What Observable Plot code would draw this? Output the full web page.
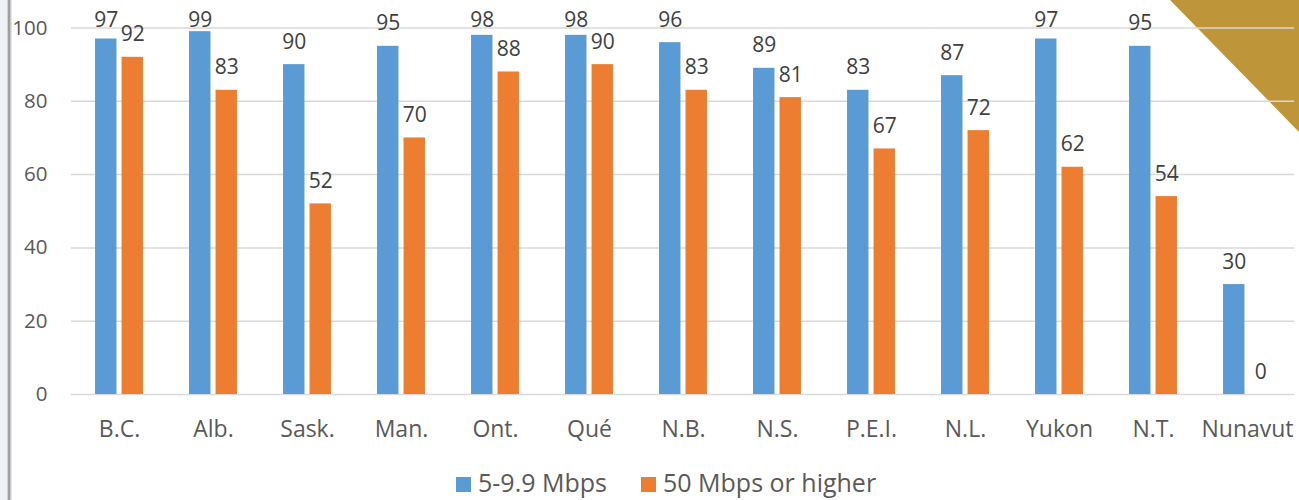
<!DOCTYPE html>
<html>
<head>
<meta charset="utf-8">
<script src="https://cdn.jsdelivr.net/npm/d3@7"></script>
<script src="https://cdn.jsdelivr.net/npm/@observablehq/plot@0.6"></script>
<style>
  html, body { margin: 0; padding: 0; background: #fff; }
  #wrap { position: relative; width: 1299px; height: 500px; overflow: hidden; font-family: "Open Sans", sans-serif; }
  #border { position: absolute; left: 0; top: 0; width: 12px; height: 500px;
    background: linear-gradient(to right, #eef2f7 0px, #eef2f7 7px, #b0b0b0 8px, #8c8c8c 9px, #c8c8c8 10.5px, #f4f4f4 12px); }
  #tri { position: absolute; right: 0; top: 0; width: 129px; height: 132px; background: #BE9539;
    clip-path: polygon(0 0, 100% 0, 100% 100%); }
  #chart { position: absolute; left: 0; top: 0; }
  #legend { position: absolute; left: 456px; top: 470px; display: flex; align-items: center; gap: 34px; color: #595959; font-size: 25px; line-height: 24px; }
  .item { display: flex; align-items: center; }
  .sw { width: 15px; height: 15px; margin-right: 7px; margin-top: 4px; }
</style>
</head>
<body>
<div id="wrap">
  <div id="tri"></div>
  <div id="border"></div>
  <div id="chart"></div>
  <div id="legend"></div>
</div>
<script>
const provinces = ["B.C.", "Alb.", "Sask.", "Man.", "Ont.", "Qué", "N.B.", "N.S.", "P.E.I.", "N.L.", "Yukon", "N.T.", "Nunavut"];
const speed5to10 = [97, 99, 90, 95, 98, 98, 96, 89, 83, 87, 97, 95, 30];
const speed50plus = [92, 83, 52, 70, 88, 90, 83, 81, 67, 72, 62, 54, 0];
const seriesNames = ["5-9.9 Mbps", "50 Mbps or higher"];
const seriesColors = ["#5B9BD5", "#ED7D31"];
const yTicks = [0, 20, 40, 60, 80, 100];

const rows = [];
provinces.forEach((p, i) => {
  rows.push({province: p, series: seriesNames[0], value: speed5to10[i]});
  rows.push({province: p, series: seriesNames[1], value: speed50plus[i]});
});
const s0 = rows.filter(d => d.series === seriesNames[0]);
const s1 = rows.filter(d => d.series === seriesNames[1]);

const W = 1299, H = 450;
const mL = 71, mR = 5;
const step = (W - mL - mR) / provinces.length;
const barW = 21.5, off = 13.25;
const inset = (step - barW) / 2;
const labelCap = 96;

const font = "'Open Sans', sans-serif";
const chart = Plot.plot({
  width: W,
  height: H,
  marginLeft: mL,
  marginRight: mR,
  marginTop: 27.5,
  marginBottom: 56,
  style: {background: "transparent", overflow: "visible", fontFamily: font, color: "#595959"},
  x: {domain: provinces, padding: 0},
  y: {domain: [0, 100]},
  marks: [
    Plot.ruleY(yTicks, {stroke: "#d9d9d9", strokeWidth: 1.5}),
    Plot.barY(s0, {x: "province", y: "value", fill: seriesColors[0], dx: -off, insetLeft: inset, insetRight: inset}),
    Plot.barY(s1, {x: "province", y: "value", fill: seriesColors[1], dx: off, insetLeft: inset, insetRight: inset}),
    Plot.text(s0, {x: "province", y: d => Math.min(d.value, labelCap), text: d => String(d.value), dx: -off, dy: -16, lineAnchor: "bottom", fontSize: 21, fill: "#404040"}),
    Plot.text(s1, {x: "province", y: d => Math.min(d.value, labelCap), text: d => String(d.value), dx: off, dy: -16, lineAnchor: "bottom", fontSize: 21, fill: "#404040"}),
    Plot.axisY({ticks: yTicks, tickSize: 0, tickPadding: 24, fontSize: 20.5, label: null, fill: "#595959"}),
    Plot.axisX({tickSize: 0, tickPadding: 26, fontSize: 23, label: null, fill: "#595959"})
  ]
});
document.getElementById("chart").appendChild(chart);

const legend = document.getElementById("legend");
seriesNames.forEach((name, i) => {
  const it = document.createElement("div");
  it.className = "item";
  const sw = document.createElement("div");
  sw.className = "sw";
  sw.style.background = seriesColors[i];
  const tx = document.createElement("span");
  tx.textContent = name;
  it.appendChild(sw);
  it.appendChild(tx);
  legend.appendChild(it);
});
</script>
</body>
</html>
